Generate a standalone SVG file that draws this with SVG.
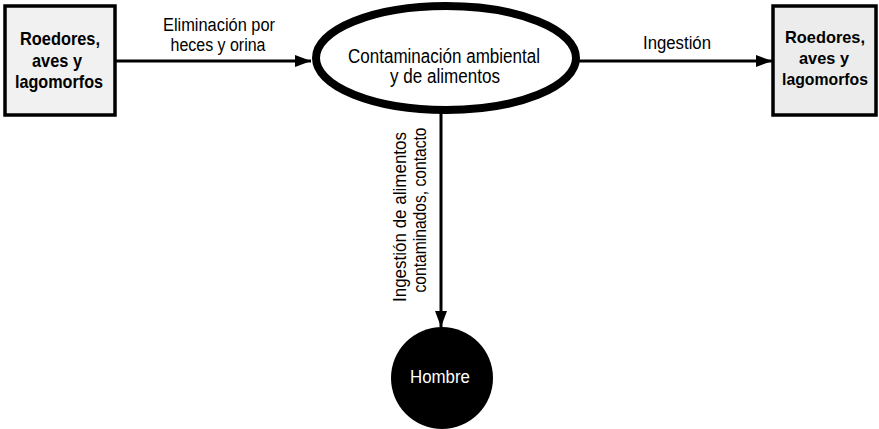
<svg xmlns="http://www.w3.org/2000/svg" width="879" height="429" viewBox="0 0 879 429">
<style>
.box{fill:#f1f1f1;stroke:#000;stroke-width:3.5}
.bt{font-family:"Liberation Sans",Arial,sans-serif;font-weight:bold;font-size:19px;fill:#000;text-anchor:middle}
.btr{font-family:"Liberation Sans",Arial,sans-serif;font-weight:bold;font-size:17px;fill:#000;text-anchor:middle}
.t{font-family:"Liberation Sans",Arial,sans-serif;font-size:18px;fill:#000;text-anchor:middle}
.te{font-family:"Liberation Sans",Arial,sans-serif;font-size:19.5px;fill:#000;text-anchor:middle}
.c{stroke:#000;stroke-width:3;fill:none}
</style>
<defs>
<marker id="ah" markerWidth="16" markerHeight="12" refX="16" refY="6" orient="auto" markerUnits="userSpaceOnUse">
<path d="M0,0 L16,6 L0,12 Z" fill="#000"/>
</marker>
</defs>
<g id="connectors">
<line class="c" x1="116" y1="61" x2="311" y2="61" marker-end="url(#ah)"/>
<line class="c" x1="578" y1="61" x2="772" y2="61" marker-end="url(#ah)"/>
<line class="c" x1="441" y1="112" x2="441" y2="327" marker-end="url(#ah)"/>
<text class="t" x="219" y="31" textLength="112" lengthAdjust="spacingAndGlyphs">Eliminación por</text>
<text class="t" x="218" y="51" textLength="95" lengthAdjust="spacingAndGlyphs">heces y orina</text>
<text class="t" x="677" y="49" textLength="68" lengthAdjust="spacingAndGlyphs">Ingestión</text>
<text class="t" transform="translate(406,217) rotate(-90)" textLength="170" lengthAdjust="spacingAndGlyphs">Ingestión de alimentos</text>
<text class="t" transform="translate(426,210) rotate(-90)" textLength="165" lengthAdjust="spacingAndGlyphs">contaminados, contacto</text>
</g>
<g id="node-left">
<rect class="box" x="5" y="6" width="110" height="109"/>
<text class="bt" x="60" y="45" textLength="80" lengthAdjust="spacingAndGlyphs">Roedores,</text>
<text class="bt" x="57" y="67" textLength="50" lengthAdjust="spacingAndGlyphs">aves y</text>
<text class="bt" x="59" y="88" textLength="88" lengthAdjust="spacingAndGlyphs">lagomorfos</text>
</g>
<g id="node-center">
<ellipse cx="446" cy="58" rx="130" ry="52" fill="#fff" stroke="#000" stroke-width="8"/>
<text class="te" x="444" y="63" textLength="192" lengthAdjust="spacingAndGlyphs">Contaminación ambiental</text>
<text class="te" x="445" y="83" textLength="110" lengthAdjust="spacingAndGlyphs">y de alimentos</text>
</g>
<g id="node-right">
<rect class="box" x="773" y="6" width="103" height="109" style="fill:#ececec"/>
<text class="btr" x="825" y="43" textLength="80" lengthAdjust="spacingAndGlyphs">Roedores,</text>
<text class="btr" x="824" y="64" textLength="50" lengthAdjust="spacingAndGlyphs">aves y</text>
<text class="btr" x="825" y="85" textLength="86" lengthAdjust="spacingAndGlyphs">lagomorfos</text>
</g>
<g id="node-hombre">
<circle cx="442" cy="378" r="51" fill="#000"/>
<text class="t" x="440" y="383" textLength="60" lengthAdjust="spacingAndGlyphs" style="fill:#fff">Hombre</text>
</g>
</svg>
